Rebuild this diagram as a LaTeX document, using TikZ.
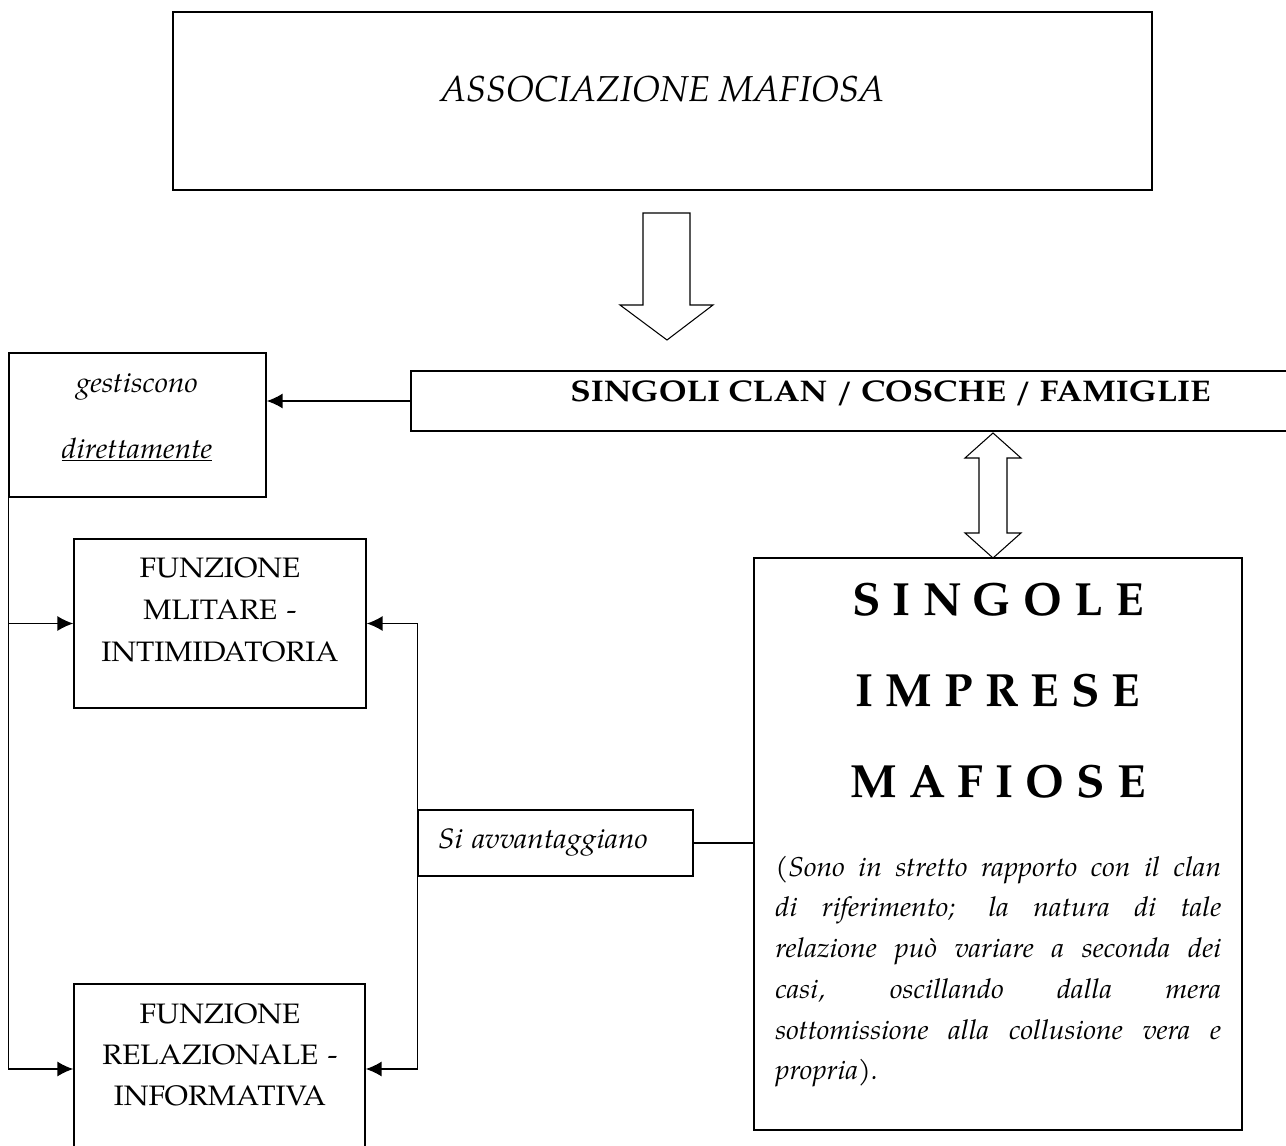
\documentclass[tikz,border=0pt]{standalone}
\usepackage{fontspec}
\setmainfont{TeX Gyre Pagella}
\usetikzlibrary{arrows.meta}

\tikzset{
  box/.style={draw, line width=0.9pt, inner sep=0pt},
  link/.style={line width=0.8pt, -{Latex[length=9pt,width=8.5pt]}},
  plain/.style={line width=0.8pt},
  fat/.style={draw, line width=0.6pt, fill=white, line join=miter},
  txt/.style={font=\fontsize{16pt}{24pt}\selectfont\addfontfeature{FakeStretch=1.06}},
  txti/.style={font=\fontsize{16pt}{24pt}\selectfont\itshape\addfontfeature{FakeStretch=1.06}},
}

\begin{document}
\begin{tikzpicture}[x=0.02cm, y=-0.02cm]
      \useasboundingbox (0,0) rectangle (1286,1146);
      \clip (0,0) rectangle (1286,1146);

      % boxes
      \node[box, minimum width=19.58cm, minimum height=3.56cm,
            text height=0.3cm, text depth=0.3cm,
            font=\fontsize{20.5pt}{24pt}\selectfont\itshape] (assoc) at (662.5,101) {ASSOCIAZIONE MAFIOSA};
      \node[box, minimum width=19.18cm, minimum height=1.2cm,
            text height=0.3cm, text depth=0.3cm,
            font=\fontsize{17pt}{20pt}\selectfont\bfseries\addfontfeature{FakeStretch=1.12}] (clan) at (890.5,401) {SINGOLI CLAN / COSCHE / FAMIGLIE};
      \node[box, minimum width=5.14cm, minimum height=2.88cm] (gest) at (137.5,425) {};
      \node[box, minimum width=5.84cm, minimum height=3.38cm] (mil) at (220,623.5) {};
      \node[box, minimum width=5.82cm, minimum height=3.4cm] (rel) at (219.5,1069) {};
      \node[box, minimum width=5.5cm, minimum height=1.32cm, text width=4.7cm,
            text height=0.35cm, text depth=0.15cm, txti] (avv) at (555.5,843) {Si avvantaggiano};
      \node[box, minimum width=9.76cm, minimum height=11.44cm] (imp) at (998,844) {};

      % texts
      \node[txti, anchor=base] (gestA) at (137,392) {gestiscono};
      \node[txti, anchor=base] (gestB) at (137,458) {\underline{direttamente}};
      \node[txt, text width=5.8cm, align=center, anchor=base] (milT) at (220,577)
            {FUNZIONE\\ MLITARE -\\ INTIMIDATORIA};
      \node[txt, text width=5.8cm, align=center, anchor=base,
            font=\fontsize{16pt}{23.5pt}\selectfont\addfontfeature{FakeStretch=1.06}] (relT) at (220,1023)
            {FUNZIONE\\ RELAZIONALE -\\ INFORMATIVA};
      \node[text width=9.2cm, align=center, anchor=base,
            font=\fontsize{26.5pt}{52pt}\selectfont\bfseries\addfontfeature{LetterSpace=26}] (impT) at (998,615)
            {SINGOLE\\ IMPRESE\\ MAFIOSE};
      \node[text width=8.92cm, align=justify, anchor=base west, inner sep=0pt,
            font=\fontsize{15.5pt}{23.2pt}\selectfont\itshape\addfontfeature{FakeStretch=1.04}] (impP) at (775,876)
            {\hyphenpenalty=10000 (Sono in stretto rapporto con il clan\linebreak
             di riferimento; la natura di tale\linebreak
             relazione può variare a seconda dei\linebreak
             casi, oscillando dalla mera\linebreak
             sottomissione alla collusione vera e\linebreak
             propria).};

      % block arrows
      \draw[fat] (643,213) -- (690,213) -- (690,305) -- (713,305) -- (667,340)
                 -- (620,305) -- (643,305) -- cycle;
      \draw[fat] (993,433) -- (1021,458) -- (1007,458) -- (1007,533) -- (1021,533)
                 -- (993,558) -- (965,533) -- (979,533) -- (979,458) -- (965,458) -- cycle;

      % connectors
      \draw[link] (clan.west) -- (clan.west -| gest.east);
      \draw[link] (gest.west) |- (rel.west);
      \draw[link] (gest.west |- mil.west) -- (mil.west);
      \draw[link] (avv.west) |- (mil.east);
      \draw[link] (avv.west) |- (rel.east);
      \draw[plain] (avv.east) -- (avv.east -| imp.west);
\end{tikzpicture}
\end{document}
